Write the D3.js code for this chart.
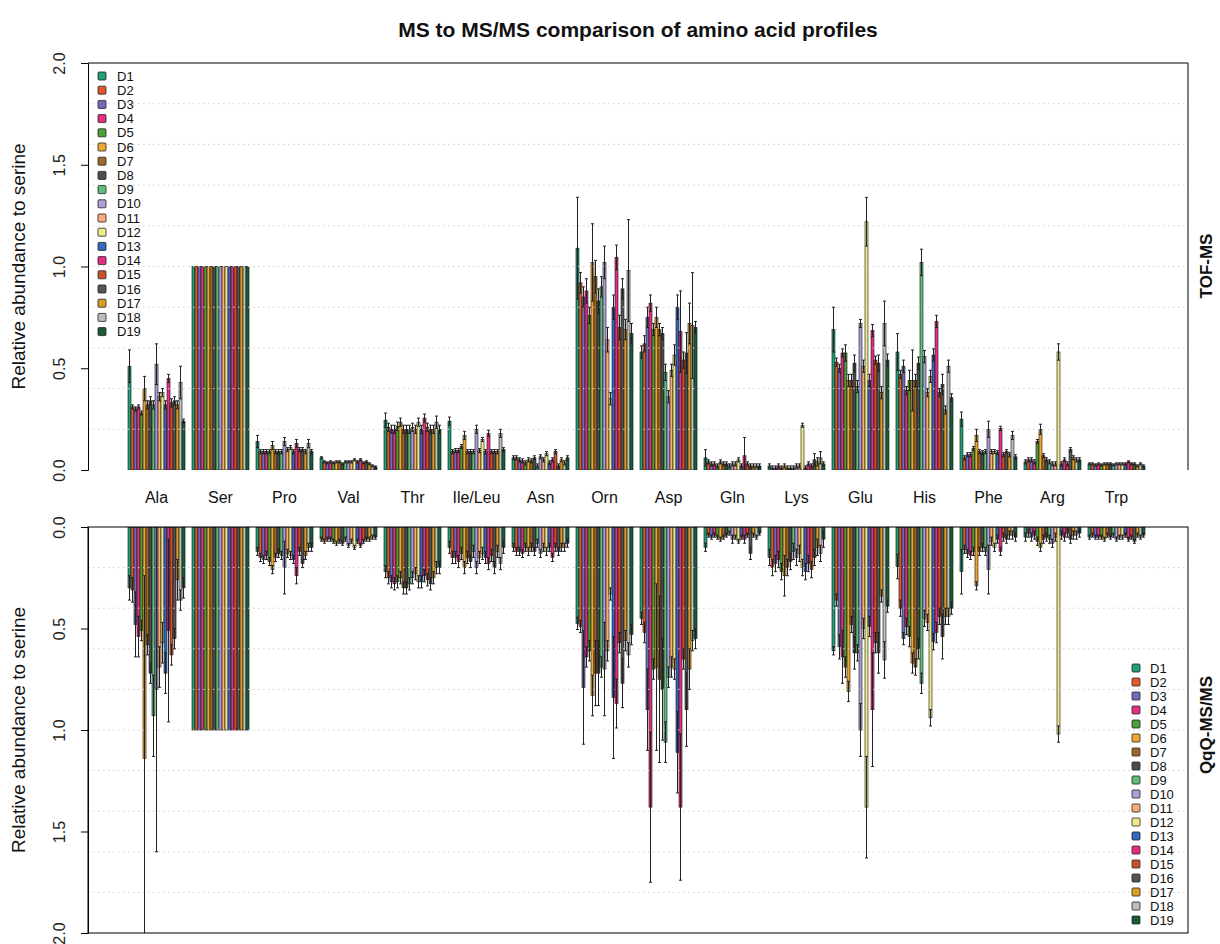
<!DOCTYPE html>
<html><head><meta charset="utf-8">
<script src="https://cdn.jsdelivr.net/npm/d3@7"></script>
<style>body{margin:0;background:#fff}svg{font-family:"Liberation Sans",Arial,sans-serif}</style>
</head><body><svg id="c" width="1220" height="944"></svg>
<script>
const categories = ["Ala","Ser","Pro","Val","Thr","Ile/Leu","Asn","Orn","Asp","Gln","Lys","Glu","His","Phe","Arg","Trp"];
const series = ["D1","D2","D3","D4","D5","D6","D7","D8","D9","D10","D11","D12","D13","D14","D15","D16","D17","D18","D19"];
const colors = ["#1f9e78","#e2582a","#6f6cb8","#e3307f","#4c9f3a","#eea531","#9c6b2c","#4d4d4d","#5dbd79","#ad9fd6","#f6ab79","#eeea8b","#3467bf","#e52e7f","#c9512c","#555555","#dc9e22","#bdbdbd","#1a5c34"];
const yTicks = [0, 0.5, 1.0, 1.5, 2.0];
const gridValues = [0.2,0.4,0.6,0.8,1.0,1.2,1.4,1.6,1.8];

// TOF-MS (top panel) means and SDs: one row per amino acid, one column per D1..D19
const tofMean = [
 [0.51,0.31,0.30,0.31,0.28,0.40,0.32,0.34,0.32,0.52,0.36,0.38,0.32,0.45,0.33,0.34,0.32,0.43,0.24],
 [1,1,1,1,1,1,1,1,1,1,1,1,1,1,1,1,1,1,1],
 [0.14,0.09,0.09,0.09,0.09,0.12,0.09,0.09,0.09,0.14,0.10,0.11,0.09,0.13,0.10,0.10,0.09,0.13,0.09],
 [0.06,0.04,0.035,0.04,0.035,0.04,0.04,0.03,0.04,0.04,0.04,0.05,0.04,0.05,0.035,0.04,0.03,0.02,0.015],
 [0.245,0.21,0.20,0.20,0.215,0.235,0.20,0.20,0.20,0.21,0.20,0.235,0.20,0.255,0.21,0.20,0.20,0.235,0.20],
 [0.24,0.09,0.095,0.095,0.115,0.17,0.09,0.09,0.09,0.20,0.095,0.15,0.09,0.18,0.09,0.09,0.09,0.18,0.10],
 [0.06,0.06,0.05,0.045,0.035,0.05,0.045,0.06,0.02,0.065,0.05,0.08,0.035,0.05,0.09,0.02,0.05,0.035,0.06],
 [1.09,0.92,0.85,0.88,0.76,1.02,0.95,0.83,0.90,1.02,0.64,0.35,0.80,1.045,0.70,0.89,0.69,0.98,0.67],
 [0.58,0.62,0.75,0.82,0.69,0.75,0.69,0.67,0.48,0.36,0.49,0.565,0.80,0.68,0.54,0.575,0.72,0.71,0.70],
 [0.06,0.04,0.03,0.03,0.02,0.04,0.03,0.03,0.02,0.03,0.03,0.05,0.02,0.07,0.03,0.02,0.02,0.02,0.02],
 [0.02,0.01,0.01,0.02,0.01,0.02,0.01,0.01,0.01,0.02,0.02,0.22,0.01,0.03,0.02,0.05,0.04,0.06,0.03],
 [0.69,0.53,0.50,0.575,0.575,0.44,0.44,0.525,0.41,0.72,0.51,1.22,0.44,0.685,0.54,0.525,0.38,0.72,0.54],
 [0.58,0.47,0.51,0.39,0.44,0.44,0.44,0.525,1.02,0.557,0.38,0.46,0.565,0.73,0.38,0.42,0.295,0.51,0.355],
 [0.25,0.06,0.075,0.075,0.105,0.17,0.09,0.085,0.09,0.20,0.09,0.09,0.085,0.205,0.075,0.09,0.075,0.17,0.065],
 [0.04,0.05,0.05,0.04,0.14,0.20,0.07,0.05,0.04,0.03,0.03,0.58,0.03,0.05,0.03,0.10,0.06,0.05,0.05],
 [0.03,0.03,0.025,0.03,0.025,0.03,0.03,0.03,0.025,0.03,0.03,0.03,0.03,0.04,0.03,0.03,0.02,0.03,0.02]
];
const tofSd = [
 [0.08,0.01,0.01,0.01,0.01,0.06,0.02,0.02,0.02,0.10,0.02,0.02,0.02,0.02,0.02,0.02,0.02,0.08,0.01],
 [0,0,0,0,0,0,0,0,0,0,0,0,0,0,0,0,0,0,0],
 [0.03,0.01,0.01,0.01,0.01,0.02,0.01,0.01,0.01,0.02,0.01,0.01,0.01,0.02,0.01,0.01,0.01,0.02,0.01],
 [0.005,0.005,0.005,0.005,0.005,0.005,0.005,0.005,0.005,0.005,0.005,0.005,0.005,0.005,0.005,0.005,0.005,0.005,0.005],
 [0.035,0.02,0.02,0.02,0.02,0.02,0.02,0.02,0.02,0.02,0.02,0.02,0.02,0.02,0.02,0.02,0.02,0.03,0.02],
 [0.02,0.01,0.01,0.01,0.01,0.02,0.01,0.01,0.01,0.02,0.01,0.01,0.01,0.015,0.01,0.01,0.01,0.02,0.01],
 [0.01,0.01,0.01,0.01,0.01,0.01,0.01,0.01,0.01,0.01,0.01,0.01,0.01,0.01,0.01,0.01,0.01,0.01,0.01],
 [0.25,0.05,0.05,0.06,0.04,0.19,0.08,0.06,0.05,0.08,0.06,0.03,0.06,0.06,0.06,0.05,0.05,0.25,0.05],
 [0.03,0.04,0.05,0.04,0.03,0.05,0.03,0.03,0.04,0.03,0.03,0.05,0.06,0.20,0.04,0.10,0.10,0.26,0.03],
 [0.04,0.01,0.01,0.01,0.01,0.01,0.01,0.01,0.01,0.01,0.01,0.01,0.01,0.09,0.01,0.01,0.01,0.01,0.01],
 [0.01,0.01,0.01,0.01,0.01,0.01,0.01,0.01,0.01,0.01,0.01,0.01,0.01,0.01,0.01,0.03,0.02,0.03,0.01],
 [0.11,0.02,0.02,0.02,0.04,0.03,0.03,0.04,0.03,0.02,0.03,0.12,0.03,0.03,0.02,0.04,0.03,0.11,0.03],
 [0.09,0.02,0.03,0.02,0.05,0.15,0.03,0.03,0.065,0.03,0.02,0.03,0.03,0.03,0.02,0.05,0.02,0.03,0.02],
 [0.035,0.01,0.01,0.01,0.01,0.03,0.01,0.01,0.01,0.04,0.01,0.01,0.01,0.01,0.01,0.01,0.01,0.02,0.01],
 [0.01,0.01,0.01,0.01,0.01,0.025,0.01,0.01,0.01,0.01,0.01,0.04,0.01,0.01,0.01,0.01,0.01,0.01,0.01],
 [0.005,0.005,0.005,0.005,0.005,0.005,0.005,0.005,0.005,0.005,0.005,0.005,0.005,0.005,0.005,0.005,0.005,0.005,0.005]
];
// QqQ-MS/MS (bottom panel)
const qqqMean = [
 [0.30,0.31,0.48,0.54,0.51,1.14,0.58,0.72,0.93,0.80,0.69,0.57,0.72,0.51,0.63,0.55,0.26,0.36,0.30],
 [1,1,1,1,1,1,1,1,1,1,1,1,1,1,1,1,1,1,1],
 [0.12,0.15,0.16,0.14,0.17,0.21,0.15,0.13,0.14,0.20,0.13,0.14,0.16,0.24,0.12,0.18,0.14,0.10,0.10],
 [0.06,0.07,0.06,0.06,0.07,0.08,0.07,0.08,0.06,0.09,0.07,0.10,0.07,0.09,0.07,0.06,0.06,0.05,0.05],
 [0.22,0.25,0.27,0.28,0.27,0.25,0.30,0.30,0.28,0.25,0.23,0.27,0.27,0.24,0.26,0.28,0.25,0.20,0.20],
 [0.10,0.15,0.15,0.17,0.13,0.20,0.15,0.17,0.12,0.20,0.15,0.13,0.15,0.18,0.14,0.20,0.12,0.18,0.10],
 [0.10,0.12,0.12,0.13,0.10,0.12,0.10,0.12,0.08,0.13,0.10,0.12,0.10,0.15,0.10,0.12,0.10,0.10,0.08],
 [0.475,0.49,0.79,0.64,0.61,0.83,0.72,0.72,0.69,0.70,0.61,0.33,0.84,0.87,0.57,0.77,0.56,0.63,0.53],
 [0.45,0.52,0.90,1.38,0.70,0.69,0.75,0.80,1.06,0.74,0.69,0.70,1.11,1.38,0.65,0.90,0.70,0.56,0.55],
 [0.10,0.04,0.05,0.04,0.05,0.06,0.05,0.04,0.03,0.06,0.05,0.07,0.05,0.06,0.04,0.13,0.04,0.05,0.03],
 [0.15,0.20,0.18,0.16,0.22,0.24,0.20,0.17,0.12,0.15,0.13,0.20,0.22,0.18,0.21,0.15,0.10,0.13,0.06],
 [0.61,0.36,0.59,0.64,0.69,0.81,0.48,0.62,0.62,1.00,0.50,1.38,0.49,0.90,0.57,0.62,0.34,0.655,0.39],
 [0.195,0.40,0.55,0.49,0.54,0.67,0.69,0.60,0.77,0.45,0.47,0.94,0.565,0.52,0.44,0.54,0.44,0.44,0.40],
 [0.22,0.11,0.13,0.14,0.12,0.29,0.12,0.10,0.12,0.21,0.07,0.10,0.06,0.12,0.05,0.06,0.04,0.04,0.05],
 [0.05,0.03,0.05,0.04,0.07,0.10,0.06,0.05,0.06,0.08,0.05,1.02,0.04,0.05,0.03,0.06,0.04,0.04,0.03],
 [0.05,0.04,0.05,0.05,0.05,0.06,0.04,0.05,0.04,0.06,0.05,0.05,0.04,0.06,0.05,0.07,0.04,0.05,0.04]
];
const qqqSd = [
 [0.06,0.06,0.16,0.10,0.05,0.90,0.05,0.05,0.20,0.80,0.10,0.10,0.10,0.45,0.05,0.05,0.10,0.05,0.05],
 [0,0,0,0,0,0,0,0,0,0,0,0,0,0,0,0,0,0,0],
 [0.02,0.02,0.02,0.02,0.02,0.02,0.02,0.02,0.02,0.13,0.02,0.02,0.02,0.04,0.02,0.02,0.02,0.02,0.02],
 [0.01,0.01,0.01,0.01,0.01,0.01,0.01,0.01,0.01,0.01,0.01,0.01,0.01,0.01,0.01,0.01,0.01,0.01,0.01],
 [0.03,0.03,0.03,0.03,0.03,0.03,0.03,0.03,0.03,0.03,0.03,0.03,0.03,0.03,0.03,0.03,0.03,0.03,0.03],
 [0.03,0.03,0.03,0.03,0.03,0.03,0.03,0.03,0.03,0.03,0.03,0.03,0.03,0.03,0.03,0.03,0.03,0.03,0.03],
 [0.02,0.02,0.02,0.02,0.02,0.02,0.02,0.02,0.02,0.02,0.02,0.02,0.02,0.02,0.02,0.02,0.02,0.02,0.02],
 [0.03,0.03,0.28,0.05,0.05,0.10,0.16,0.16,0.05,0.23,0.05,0.03,0.30,0.12,0.05,0.12,0.05,0.06,0.05],
 [0.03,0.05,0.20,0.37,0.05,0.41,0.41,0.25,0.10,0.05,0.05,0.05,0.20,0.36,0.05,0.18,0.10,0.05,0.05],
 [0.02,0.01,0.01,0.01,0.01,0.01,0.01,0.01,0.01,0.02,0.01,0.01,0.01,0.02,0.01,0.03,0.01,0.01,0.01],
 [0.04,0.04,0.04,0.04,0.04,0.10,0.04,0.04,0.04,0.04,0.04,0.04,0.04,0.04,0.04,0.04,0.04,0.04,0.04],
 [0.02,0.03,0.06,0.13,0.05,0.05,0.04,0.08,0.04,0.13,0.05,0.25,0.05,0.28,0.05,0.10,0.03,0.09,0.03],
 [0.06,0.04,0.03,0.04,0.05,0.05,0.04,0.05,0.05,0.04,0.04,0.04,0.04,0.05,0.04,0.11,0.04,0.04,0.03],
 [0.11,0.02,0.02,0.02,0.02,0.02,0.02,0.02,0.02,0.12,0.02,0.02,0.02,0.02,0.02,0.02,0.02,0.02,0.02],
 [0.02,0.02,0.02,0.02,0.02,0.02,0.02,0.02,0.02,0.02,0.02,0.04,0.02,0.02,0.02,0.02,0.02,0.02,0.02],
 [0.01,0.01,0.01,0.01,0.01,0.01,0.01,0.01,0.01,0.01,0.01,0.01,0.01,0.01,0.01,0.01,0.01,0.01,0.01]
];

const svg = d3.select("#c");
const L = 88, R = 1188;
const x0 = d3.scaleBand().domain(categories).range([124.5, 1148.5]).paddingInner(0.109).paddingOuter(0.0547);
const x1 = d3.scaleBand().domain(series).range([0, x0.bandwidth()]).padding(0);
const color = d3.scaleOrdinal().domain(series).range(colors);

const panels = [
  {id:"top", mean:tofMean, sd:tofSd, y:d3.scaleLinear().domain([0,2]).range([470,63]), label:"TOF-MS", ly:266},
  {id:"bot", mean:qqqMean, sd:qqqSd, y:d3.scaleLinear().domain([0,2]).range([527,933]), label:"QqQ-MS/MS", ly:725}
];

// title
svg.append("text").attr("x",(L+R)/2).attr("y",37).attr("text-anchor","middle")
  .attr("font-size",21).attr("font-weight","bold").attr("fill","#111").text("MS to MS/MS comparison of amino acid profiles");

panels.forEach(p => {
  const y = p.y;
  const top = Math.min(y.range()[0], y.range()[1]), bot = Math.max(y.range()[0], y.range()[1]);
  svg.append("clipPath").attr("id","clip-"+p.id).append("rect").attr("x",L).attr("y",top).attr("width",R-L).attr("height",bot-top);
  const g = svg.append("g").attr("clip-path","url(#clip-"+p.id+")");
  const rows = [];
  categories.forEach((c,i) => series.forEach((s,j) => rows.push({c, s, m:p.mean[i][j], sd:p.sd[i][j]})));
  g.selectAll("rect.bar").data(rows).join("rect").attr("class","bar")
    .attr("x", d => x0(d.c) + x1(d.s)).attr("width", x1.bandwidth())
    .attr("y", d => Math.min(y(0), y(d.m))).attr("height", d => Math.abs(y(d.m) - y(0)))
    .attr("fill", d => color(d.s)).attr("stroke","#111").attr("stroke-width",0.6);
  // grid (dotted, over bars)
  g.selectAll("line.grid").data(gridValues).join("line").attr("class","grid")
    .attr("x1",L).attr("x2",R).attr("y1",d=>y(d)).attr("y2",d=>y(d))
    .attr("stroke","#cfcfcf").attr("stroke-width",1).attr("stroke-dasharray","1.5,3.5");
  // error bars
  const eb = rows.filter(d => d.sd > 0);
  const cx = d => x0(d.c) + x1(d.s) + x1.bandwidth()/2;
  g.selectAll("line.err").data(eb).join("line").attr("class","err")
    .attr("x1",cx).attr("x2",cx).attr("y1",d=>y(Math.max(0,d.m-d.sd))).attr("y2",d=>y(d.m+d.sd))
    .attr("stroke","#222").attr("stroke-width",1);
  [-1,1].forEach(sg => {
    g.selectAll("line.cap"+(sg>0?"a":"b")).data(eb).join("line").attr("class","cap"+(sg>0?"a":"b"))
      .attr("x1",d=>cx(d)-1.5).attr("x2",d=>cx(d)+1.5)
      .attr("y1",d=>y(Math.max(0,d.m+sg*d.sd))).attr("y2",d=>y(Math.max(0,d.m+sg*d.sd)))
      .attr("stroke","#222").attr("stroke-width",1);
  });
  // y axis
  const ax = svg.append("g").attr("transform",`translate(${L},0)`)
    .call(d3.axisLeft(y).tickValues(yTicks).tickFormat(d3.format(".1f")).tickSizeOuter(0).tickSize(7));
  ax.select(".domain").attr("stroke","#000");
  ax.selectAll(".tick line").attr("stroke","#000");
  ax.selectAll(".tick text").attr("font-size",16).attr("fill","#222")
    .attr("x",null).attr("dy","0.35em").attr("text-anchor","middle")
    .attr("transform","translate(-29,0) rotate(-90)");
  // frame
  const fr = svg.append("g").attr("fill","none").attr("stroke","#000").attr("stroke-width",1);
  if (p.id === "top") {
    fr.append("path").attr("d",`M${L},${y(2)}H${R}V${y(0)}`);
  } else {
    fr.append("rect").attr("x",L).attr("y",top).attr("width",R-L).attr("height",bot-top);
  }
  // y title
  const cy = (top+bot)/2;
  svg.append("text").attr("transform",`translate(25,${cy}) rotate(-90)`).attr("text-anchor","middle")
    .attr("font-size",19).attr("fill","#111").text("Relative abundance to serine");
  svg.append("text").attr("transform",`translate(1206,${p.ly}) rotate(-90)`).attr("text-anchor","middle")
    .attr("dy","0.35em").attr("font-size",17).attr("font-weight","bold").attr("fill","#111").text(p.label);
});

// x category labels
svg.append("g").selectAll("text").data(categories).join("text")
  .attr("x", d => x0(d) + x0.bandwidth()/2).attr("y", 503).attr("text-anchor","middle")
  .attr("font-size",16).attr("fill","#111").text(d => d);

// legends
function legend(xs, xt, y0, step) {
  const lg = svg.append("g");
  const it = lg.selectAll("g").data(series).join("g").attr("transform",(d,i)=>`translate(0,${y0 + i*step})`);
  it.append("rect").attr("x",xs).attr("y",-4).attr("width",8).attr("height",8).attr("rx",1)
    .attr("fill",d=>color(d)).attr("stroke","#222").attr("stroke-width",0.8);
  it.append("text").attr("x",xt).attr("dy","0.36em").attr("font-size",13).attr("fill","#111").text(d=>d);
}
legend(98, 117, 76, 14.2);
legend(1132, 1150, 668, 14);
</script></body></html>
